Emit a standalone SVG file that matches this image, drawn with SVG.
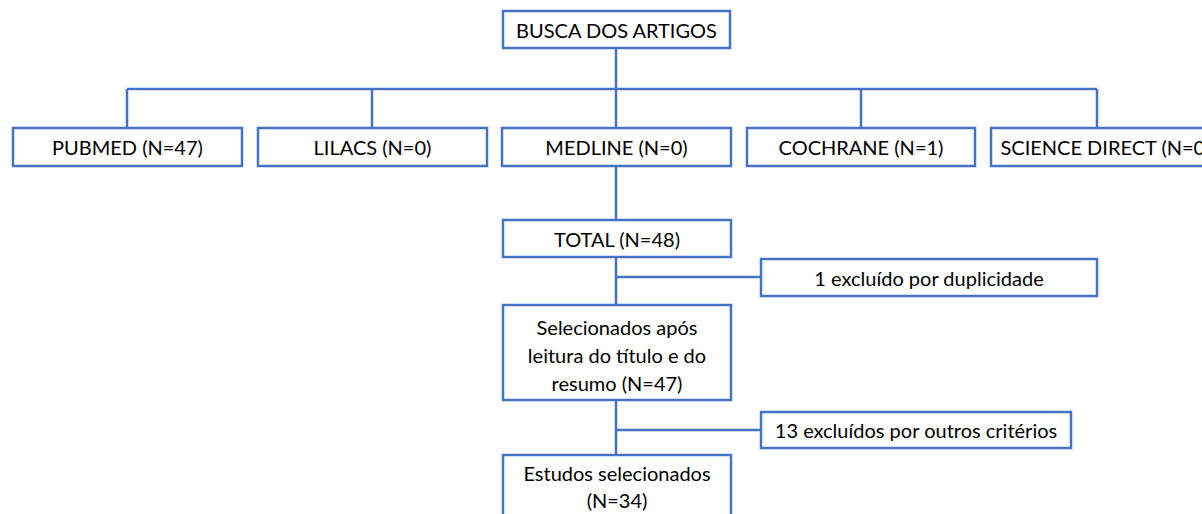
<svg xmlns="http://www.w3.org/2000/svg" width="1202" height="514" viewBox="0 0 1202 514">
<style>
.box{fill:#fff;stroke:#4472C4;stroke-width:2.5}
.ln{fill:none;stroke:#4472C4;stroke-width:2.5}
text{font-family:Lato,"Liberation Sans",sans-serif;font-size:20px;fill:#000;text-anchor:middle;dominant-baseline:central}
</style>
<rect width="1202" height="514" fill="#fff"/>
<g id="connectors">
<path class="ln" d="M616 48V89M127 89H1097M127 89V128M372 89V128M616 89V128M861 89V128M1097 89V128"/>
<path class="ln" d="M616 166V220M616 257V305M616 277H761M616 400V455M616 430H761"/>
</g>
<g id="n-busca"><rect class="box" x="503" y="11" width="227" height="37"/><text x="616.5" y="30">BUSCA DOS ARTIGOS</text></g>
<g id="n-pubmed"><rect class="box" x="13" y="128" width="229" height="38"/><text x="127.5" y="147">PUBMED (N=47)</text></g>
<g id="n-lilacs"><rect class="box" x="258" y="128" width="229" height="38"/><text x="372.5" y="147">LILACS (N=0)</text></g>
<g id="n-medline"><rect class="box" x="502" y="128" width="229" height="38"/><text x="616.5" y="147">MEDLINE (N=0)</text></g>
<g id="n-cochrane"><rect class="box" x="747" y="128" width="228" height="38"/><text x="861" y="147">COCHRANE (N=1)</text></g>
<g id="n-science"><rect class="box" x="991" y="128" width="229" height="38"/><text x="1105.5" y="147">SCIENCE DIRECT (N=0)</text></g>
<g id="n-total"><rect class="box" x="503" y="220" width="228" height="37"/><text x="617" y="239">TOTAL (N=48)</text></g>
<g id="n-excl1"><rect class="box" x="761" y="259" width="336" height="37"/><text x="929" y="278">1 excluído por duplicidade</text></g>
<g id="n-selec"><rect class="box" x="503" y="305" width="228" height="95"/><text x="617" y="327">Selecionados após</text><text x="617" y="355">leitura do título e do</text><text x="617" y="383">resumo (N=47)</text></g>
<g id="n-excl2"><rect class="box" x="761" y="412" width="310" height="36"/><text x="916" y="430">13 excluídos por outros critérios</text></g>
<g id="n-estudos"><rect class="box" x="503" y="455" width="228" height="70"/><text x="617" y="473">Estudos selecionados</text><text x="617" y="500">(N=34)</text></g>
</svg>
